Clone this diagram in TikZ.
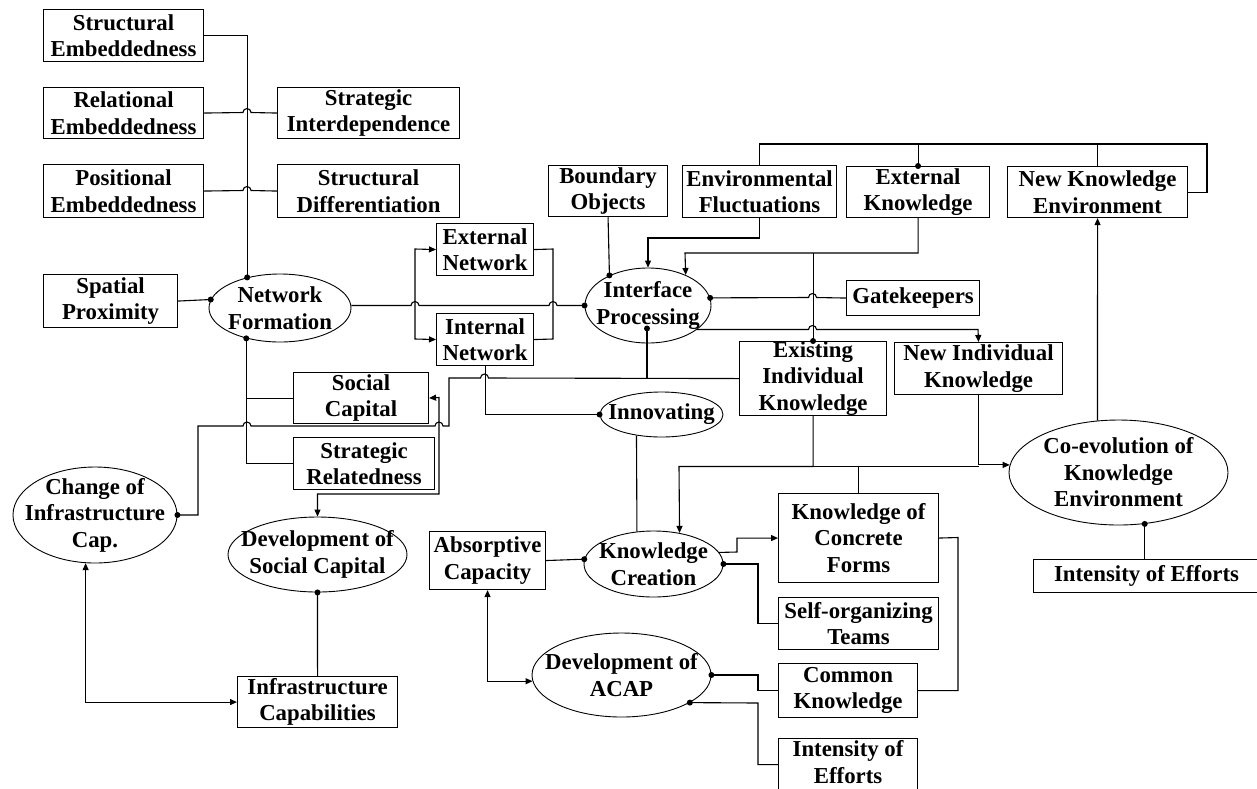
\documentclass[tikz,border=0pt]{standalone}
\usepackage{fontspec}
\setmainfont{Liberation Serif}
\usetikzlibrary{shapes.geometric,arrows.meta,calc}
\newcommand\bxfont{\fontsize{22.8pt}{26.5pt}\selectfont\bfseries}
\begin{document}
\begin{tikzpicture}[x=1pt,y=-1pt,
  box/.style={draw, line width=1.1pt, rectangle, inner sep=0pt, anchor=north west, align=center, font=\bxfont},
  oval/.style={draw, ellipse, line width=0.9pt, inner sep=0pt},
  otext/.style={align=center, font=\bxfont, inner sep=0pt},
  wire/.style={line width=1.1pt},
  arr/.style={wire, -{Triangle[length=7pt,width=6pt]}},
  darr/.style={wire, {Triangle[length=7pt,width=6pt]}-{Triangle[length=7pt,width=6pt]}},
  dotr/.style={radius=3pt}]
\useasboundingbox (0,0) rectangle (1257,788);
\clip (0,0) rectangle (1257,788);
\fill[white] (0,0) rectangle (1257,788);

% ---------- boxes ----------
\node[box, minimum width=160pt, minimum height=52pt] (se) at (43,9) {Structural\\Embeddedness};
\node[box, minimum width=160pt, minimum height=51pt] (re) at (43,87) {Relational\\Embeddedness};
\node[box, minimum width=160pt, minimum height=53pt] (pe) at (43,164) {Positional\\Embeddedness};
\node[box, minimum width=182pt, minimum height=51pt] (sid) at (277,87) {Strategic\\Interdependence};
\node[box, minimum width=182pt, minimum height=53pt] (sdf) at (277,164) {Structural\\Differentiation};
\node[box, minimum width=134pt, minimum height=53pt] (sp) at (43,274) {Spatial\\Proximity};
\node[box, minimum width=97pt, minimum height=52pt] (en) at (436,223) {External\\Network};
\node[box, minimum width=97pt, minimum height=52pt] (in) at (436,313) {Internal\\Network};
\node[box, minimum width=135pt, minimum height=51pt] (sc) at (293,372) {Social\\Capital};
\node[box, minimum width=141pt, minimum height=52pt] (sr) at (293,437) {Strategic\\Relatedness};
\node[box, minimum width=160pt, minimum height=51pt] (ic) at (237,676) {Infrastructure\\Capabilities};
\node[box, minimum width=119pt, minimum height=51pt] (bo) at (548,165) {Boundary\\Objects};
\node[box, minimum width=154pt, minimum height=52pt] (ef) at (682,165) {Environmental\\Fluctuations};
\node[box, minimum width=143pt, minimum height=51pt] (ek) at (846,166) {External\\Knowledge};
\node[box, minimum width=180pt, minimum height=51pt] (nke) at (1007,166) {New Knowledge\\Environment};
\node[box, minimum width=133pt, minimum height=35pt] (gk) at (846,280) {Gatekeepers};
\node[box, minimum width=147pt, minimum height=74pt] (eik) at (739,341) {Existing\\Individual\\Knowledge};
\node[box, minimum width=168pt, minimum height=52pt] (nik) at (894,342) {New Individual\\Knowledge};
\node[box, minimum width=116pt, minimum height=58pt] (ac) at (429,531) {Absorptive\\Capacity};
\node[box, minimum width=160pt, minimum height=89pt] (kcf) at (778,493) {Knowledge of\\Concrete\\Forms};
\node[box, minimum width=160pt, minimum height=52pt] (sot) at (778,597) {Self-organizing\\Teams};
\node[box, minimum width=139pt, minimum height=54pt] (ck) at (778,663) {Common\\Knowledge};
\node[box, minimum width=139pt, minimum height=52pt] (ie1) at (778,738) {Intensity of\\Efforts\vphantom{g}};
\node[box, minimum width=226pt, minimum height=33pt] (ie2) at (1033,559) {Intensity of Efforts};

% ---------- ellipses ----------
\node[oval, minimum width=142pt, minimum height=68pt] (nf) at (280,308) {};
\node[otext] (nft) at (nf) {Network\\Formation};
\node[oval, minimum width=126pt, minimum height=75pt] (ip) at (648,305.5) {};
\node[otext] (ipt) at (ip) {Interface\\Processing};
\node[oval, minimum width=123pt, minimum height=45pt] (inn) at (661.5,414.5) {};
\node[otext] (innt) at (inn) {Innovating};
\node[oval, minimum width=164pt, minimum height=96pt] (cic) at (95,515) {};
\node[otext] (cict) at (cic) {Change of\\Infrastructure\\Cap.};
\node[oval, minimum width=179pt, minimum height=75pt] (dsc) at (317.5,554.5) {};
\node[otext] (dsct) at (dsc) {Development of\\Social Capital};
\node[oval, minimum width=139pt, minimum height=66pt] (kc) at (653.5,564) {};
\node[otext] (kct) at (kc) {Knowledge\\Creation};
\node[oval, minimum width=179pt, minimum height=84pt] (dacap) at (621.5,675) {};
\node[otext] (dacapt) at (dacap) {Development of\\ACAP};
\node[oval, minimum width=219pt, minimum height=105pt] (coe) at (1118.5,472.5) {};
\node[otext] (coet) at (coe) {Co-evolution of\\Knowledge\\Environment};

\coordinate (ipb) at ($(ip.south)+(-1,-15)$);

% ---------- connectors: network formation ----------
\draw[wire] (se.east) -| (nf.137.6);
\fill (nf.137.6) circle[dotr];
\draw[wire] (re.east) -- (243,112.5) arc[start angle=180,end angle=0,radius=4pt] -- (sid.west);
\draw[wire] (pe.east) -- (243,190.5) arc[start angle=180,end angle=0,radius=4pt] -- (sdf.west);
\draw[wire] (sp.east) -- (nf.173.8);
\fill (nf.173.8) circle[dotr];
\draw[wire] (nf.222.4) |- (sr.west);
\draw[wire] (nf.222.4 |- sc.west) -- (sc.west);
\fill (nf.222.4) circle[dotr];
\draw[wire] (ip.west -| nf.east) -- (411,305.5) arc[start angle=180,end angle=0,radius=4pt]
  -- (549,305.5) arc[start angle=180,end angle=0,radius=4pt] -- (ip.west);
\fill (ip.west) circle[dotr];
\draw[darr] (en.west) -- (415,249) -- (415,339) -- (in.west);
\draw[wire] (en.east) -- (553,249) -- (553,339) -- (in.east);
\draw[wire] (in.south) |- (inn.west);
\fill (inn.west) circle[dotr];

% ---------- social capital and infrastructure ----------
\draw[wire] (eik.west) -- (488.5,378) arc[start angle=0,end angle=180,radius=4pt] -- (449,378) -- (449,426)
  -- (443,426) arc[start angle=0,end angle=180,radius=4pt]
  -- (251,426) arc[start angle=0,end angle=180,radius=4pt] -- (198,426) |- (cic.east);
\fill (cic.east) circle[dotr];
\draw[wire] (ipb) -- (ipb |- eik.west);
\fill (ipb) circle[dotr];
\draw[darr] (sc.east) -- (439,397.5) -- (439,494) -| (dsc.north);
\draw[darr] (cic.259.3) |- (ic.west);
\draw[wire] (dsc.south) -- (ic.north);
\fill (dsc.south) circle[dotr];

% ---------- interface processing ----------
\draw[wire] (bo.south) -- (ip.142.9);
\fill (ip.142.9) circle[dotr];
\draw[arr] (ef.south) |- (648,238) -- (ip.north);
\draw[arr] (ek.south) |- (685,253) -- (ip.39.4);
\draw[wire] (eik.north |- 0,253) -- (eik.north);
\fill (eik.north) circle[dotr];
\draw[wire] (ip.7.4) -- (808.5,297.5) arc[start angle=180,end angle=0,radius=4pt] -- (gk.west);
\fill (ip.7.4) circle[dotr];
\draw[arr] (ip.-26.4) -- (808.5,329.5) arc[start angle=180,end angle=0,radius=4pt] -- (978,329.5) -- (nik.north);

% ---------- knowledge environment ----------
\draw[wire] (ef.north) |- (1207,144) |- (nke.east);
\draw[wire] (ek.north) -- (ek.north |- 0,144);
\fill (ek.north) circle[dotr];
\draw[wire] (nke.north) -- (nke.north |- 0,144);
\draw[arr] (coe.112.7) -- (nke.south);
\draw[wire] (coe.-63.5) -- (coe.-63.5 |- ie2.north);
\fill (coe.-63.5) circle[dotr];
\draw[arr] (eik.south) |- (679,466.5) -- (kc.50.3);
\draw[wire] (eik.south |- 0,466.5) -- (nik.south |- 0,466.5);
\draw[arr] (nik.south) |- (coe.176.8);
\draw[wire] (kcf.north) -- (kcf.north |- 0,466.5);

% ---------- knowledge creation ----------
\draw[wire] (inn.220.1) -- (kc.117.2);
\draw[wire] (ac.east) -- (kc.176.7);
\fill (kc.176.7) circle[dotr];
\draw[arr] (kc.10.5) -- (737,552) |- (kcf.west);
\draw[wire] (kc.east) -- (758,564) |- (sot.west);
\fill (kc.east) circle[dotr];
\draw[wire] (kcf.east) -- (958,537.5) |- (ck.east);
\draw[darr] (ac.south) |- (dacap.184.5);
\draw[wire] (dacap.east) -- (758,675) |- (ck.west);
\fill (dacap.east) circle[dotr];
\draw[wire] (dacap.-22.8) -- (758,703) |- (ie1.west);
\fill (dacap.-22.8) circle[dotr];
\end{tikzpicture}
\end{document}
